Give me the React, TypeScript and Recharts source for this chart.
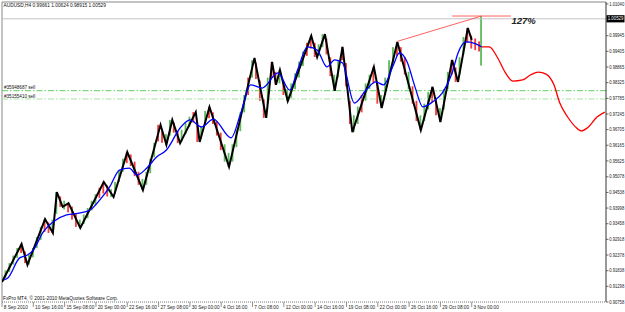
import React from 'react';
import { ComposedChart, Line, Bar, XAxis, YAxis, ReferenceLine, ReferenceDot } from 'recharts';

const FONT = '"Liberation Sans", Arial, sans-serif';
const X_MIN = 0;
const X_MAX = 308.6;
const Y_MIN = 0.90758;
const Y_MAX = 1.01108;

const xTickIdx = [0, 16, 32, 48, 64, 80, 96, 112, 128, 144, 160, 176, 192, 208, 224, 240];
const xTickLabels = ['8 Sep 2010', '10 Sep 16:00', '15 Sep 08:00', '20 Sep 00:00', '22 Sep 16:00', '27 Sep 08:00', '30 Sep 00:00', '4 Oct 16:00', '7 Oct 08:00', '12 Oct 00:00', '14 Oct 16:00', '19 Oct 08:00', '22 Oct 00:00', '26 Oct 16:00', '29 Oct 08:00', '3 Nov 00:00'];
const yTickValues = [1.0104, 1.00529, 0.99945, 0.99405, 0.98865, 0.98325, 0.97785, 0.97245, 0.96705, 0.96165, 0.95625, 0.95078, 0.94538, 0.93998, 0.93458, 0.92918, 0.92378, 0.91838, 0.91298, 0.90758];
const bidPrice = 1.00529;
const orderPrices = [0.98048, 0.97762];
const orderLabels = ['#35948687 sell', '#35155410 sell'];
const headerText = 'AUDUSD,H4  0.99661 1.00624 0.98915 1.00529';
const footerText = 'FxPro MT4, \u00a9 2001-2010 MetaQuotes Software Corp.';
const fiboIdx = [202, 245, 230, 260];
const fiboPrice = [0.9975, 1.00624];
const fiboLabel = '127%';

// ZigZag pivots
const zigIdx = [0, 10, 13, 22, 26, 28, 31, 34, 40, 52, 57, 64, 72, 81, 84, 87, 91, 99, 101, 106, 116, 129, 135, 138, 140, 142, 146, 158, 161, 165, 170, 174, 179, 190, 194, 202, 214, 220, 224, 230, 233, 238, 240];
const zigPrice = [0.9145, 0.9276, 0.9204, 0.9362, 0.9314, 0.9455, 0.9404, 0.9417, 0.9331, 0.949, 0.9438, 0.9593, 0.9462, 0.9687, 0.9618, 0.9704, 0.9624, 0.9731, 0.9628, 0.9749, 0.9542, 0.9918, 0.9711, 0.9904, 0.9825, 0.9876, 0.9769, 0.9994, 0.9921, 1.0, 0.9804, 0.9956, 0.9662, 0.9887, 0.9745, 0.9973, 0.9669, 0.9818, 0.9697, 0.9911, 0.9835, 1.0021, 0.998];

// Smoothed (blue) line
const maIdx = [1, 3, 9, 13, 16, 21, 26, 33, 40, 45, 50, 55, 60, 65, 69, 74, 79, 84, 91, 96, 102, 108, 117, 122, 127, 133, 141, 147, 151, 156, 161, 166, 170, 174, 180, 186, 191, 195, 200, 203, 207, 211, 215, 220, 225, 230, 233, 237, 241, 245];
const maPrice = [0.9152, 0.9159, 0.9228, 0.9238, 0.9255, 0.9317, 0.9352, 0.9376, 0.9383, 0.9393, 0.9428, 0.9473, 0.9531, 0.9538, 0.9514, 0.9538, 0.9576, 0.96, 0.9676, 0.9704, 0.968, 0.9707, 0.9642, 0.9728, 0.9825, 0.9814, 0.9866, 0.9807, 0.9876, 0.9956, 0.9945, 0.9887, 0.9911, 0.99, 0.9762, 0.9807, 0.9835, 0.9825, 0.9894, 0.9935, 0.9904, 0.9818, 0.9749, 0.9766, 0.9797, 0.9866, 0.9935, 0.9973, 0.9969, 0.9956];

// Red projection
const projIdx = [245, 249, 253, 257, 261, 266, 270, 274, 278, 282, 285, 289, 293, 296, 299, 304, 308];
const projPrice = [0.9956, 0.9956, 0.9921, 0.9869, 0.9838, 0.9842, 0.9859, 0.9869, 0.9862, 0.9825, 0.9762, 0.9714, 0.968, 0.9666, 0.9676, 0.9714, 0.9731];

// Candles
const candleIdx = [
  0, 2, 4, 6, 8, 10, 12, 14, 16, 18,
  20, 22, 24, 26, 28, 30, 32, 34, 36, 38,
  40, 42, 44, 46, 48, 50, 52, 54, 56, 58,
  60, 62, 64, 66, 68, 70, 72, 74, 76, 78,
  80, 82, 84, 86, 88, 90, 92, 94, 96, 98,
  100, 102, 104, 106, 108, 110, 112, 114, 116, 118,
  120, 122, 124, 126, 128, 130, 132, 134, 136, 138,
  140, 142, 144, 146, 148, 150, 152, 154, 156, 158,
  160, 162, 164, 166, 168, 170, 172, 174, 176, 178,
  180, 182, 184, 186, 188, 190, 192, 194, 196, 198,
  200, 202, 204, 206, 208, 210, 212, 214, 216, 218,
  220, 222, 224, 226, 228, 230, 232, 234, 236, 238,
  240, 242, 244, 245,
];
const candleLow = [
  0.9145, 0.9158, 0.918, 0.9205, 0.9228, 0.9245, 0.921, 0.9205, 0.923, 0.9262,
  0.929, 0.9318, 0.9314, 0.9314, 0.938, 0.9404, 0.9395, 0.9385, 0.936, 0.9335,
  0.9331, 0.9345, 0.9365, 0.9392, 0.941, 0.9435, 0.945, 0.944, 0.9438, 0.945,
  0.949, 0.9525, 0.9555, 0.9545, 0.951, 0.948, 0.9462, 0.948, 0.952, 0.9575,
  0.963, 0.9625, 0.9618, 0.965, 0.966, 0.9624, 0.963, 0.9655, 0.968, 0.9695,
  0.9628, 0.964, 0.969, 0.971, 0.969, 0.965, 0.96, 0.956, 0.9542, 0.956,
  0.961, 0.9665, 0.973, 0.979, 0.985, 0.9845, 0.977, 0.9711, 0.976, 0.985,
  0.9825, 0.983, 0.979, 0.9769, 0.978, 0.981, 0.985, 0.989, 0.9925, 0.995,
  0.9921, 0.9925, 0.9955, 0.993, 0.9855, 0.9804, 0.985, 0.991, 0.982, 0.969,
  0.9662, 0.969, 0.973, 0.977, 0.981, 0.983, 0.976, 0.9745, 0.979, 0.985,
  0.99, 0.9925, 0.9905, 0.986, 0.981, 0.976, 0.97, 0.9669, 0.97, 0.974,
  0.9765, 0.972, 0.9697, 0.974, 0.981, 0.986, 0.9835, 0.986, 0.993, 0.997,
  0.995, 0.9945, 0.994, 0.98915,
];
const candleHigh = [
  0.917, 0.9185, 0.921, 0.9236, 0.9262, 0.9276, 0.925, 0.924, 0.9262, 0.93,
  0.9335, 0.9362, 0.935, 0.936, 0.9455, 0.944, 0.9425, 0.9417, 0.9405, 0.938,
  0.936, 0.9378, 0.94, 0.9425, 0.9448, 0.947, 0.949, 0.9478, 0.9465, 0.949,
  0.953, 0.957, 0.9593, 0.9585, 0.956, 0.9525, 0.95, 0.9525, 0.957, 0.9625,
  0.9687, 0.967, 0.9655, 0.9704, 0.9695, 0.9665, 0.967, 0.9695, 0.9715, 0.9731,
  0.969, 0.968, 0.9735, 0.9749, 0.973, 0.97, 0.966, 0.962, 0.959, 0.962,
  0.967, 0.973, 0.979, 0.985, 0.991, 0.99, 0.984, 0.9775, 0.985, 0.9904,
  0.987, 0.9876, 0.984, 0.981, 0.983, 0.9865, 0.9905, 0.994, 0.997, 0.9994,
  0.997, 0.9965, 1.0, 0.9985, 0.992, 0.986, 0.991, 0.9956, 0.99, 0.977,
  0.972, 0.975, 0.979, 0.983, 0.986, 0.9887, 0.983, 0.979, 0.985, 0.991,
  0.9955, 0.9973, 0.9955, 0.992, 0.987, 0.982, 0.977, 0.972, 0.976, 0.98,
  0.9818, 0.978, 0.9745, 0.981, 0.987, 0.9911, 0.9885, 0.992, 0.999, 1.0021,
  0.9995, 0.9985, 0.9975, 1.00624,
];
const candleUp = [
  1, 1, 1, 1, 1, 0, 0, 1, 1, 1,
  1, 0, 0, 1, 1, 0, 1, 0, 0, 0,
  1, 1, 1, 1, 1, 0, 0, 0, 1, 1,
  1, 1, 0, 0, 0, 0, 1, 1, 1, 1,
  0, 0, 1, 1, 0, 0, 1, 1, 1, 0,
  0, 1, 1, 0, 0, 0, 0, 1, 1, 1,
  1, 1, 1, 0, 1, 0, 0, 0, 1, 0,
  0, 1, 0, 1, 1, 1, 1, 1, 0, 0,
  0, 1, 1, 0, 0, 1, 1, 0, 0, 0,
  1, 1, 0, 1, 1, 0, 0, 1, 1, 1,
  1, 0, 0, 0, 1, 0, 0, 1, 1, 1,
  0, 0, 1, 1, 1, 0, 0, 1, 1, 0,
  0, 0, 0, 1,
];

const GREEN = '#5cbc5c';
const RED = '#f23a3a';

const rows: any[] = [];
for (let i = 0; i <= 308; i++) rows.push({ i });
zigIdx.forEach((ix, k) => { rows[ix].zig = zigPrice[k]; });
maIdx.forEach((ix, k) => { rows[ix].ma = maPrice[k]; });
projIdx.forEach((ix, k) => { rows[ix].proj = projPrice[k]; });
candleIdx.forEach((ix, k) => {
  rows[ix].range = [candleLow[k], candleHigh[k]];
  rows[ix].up = candleUp[k];
});

const CandleShape = (p: any) => {
  const { x, y, width, height, payload } = p;
  if (!payload || !payload.range || y == null || isNaN(y) || height == null) return null;
  const cx = x + width / 2;
  const top = Math.min(y, y + height);
  const h = Math.max(1, Math.abs(height));
  return <rect x={cx - 0.9} y={top} width={1.8} height={h} fill={payload.up ? GREEN : RED} />;
};

const XTick = (p: any) => {
  const { x, y, payload } = p;
  const k = xTickIdx.indexOf(payload.value);
  return (
    <g>
      <line x1={x} x2={x} y1={y} y2={y + 5} stroke="#777" strokeWidth={0.8} />
      <text x={x + 1.8} y={y + 7.2} fontSize={4.7} fontFamily={FONT} fill="#222">{xTickLabels[k]}</text>
    </g>
  );
};

const YTick = (p: any) => {
  const { x, y, payload } = p;
  const v = payload.value;
  const label = v.toFixed(5);
  if (Math.abs(v - bidPrice) < 1e-7) {
    return (
      <g>
        <rect x={x + 0.5} y={y - 3.6} width={18} height={7.2} fill="#000" />
        <text x={x + 1.8} y={y + 1.7} fontSize={4.6} fontFamily={FONT} fill="#fff" textLength={15.5} lengthAdjust="spacingAndGlyphs">{label}</text>
      </g>
    );
  }
  return (
    <g>
      <line x1={x} x2={x + 2.5} y1={y} y2={y} stroke="#444" strokeWidth={0.8} />
      <text x={x + 3.2} y={y + 1.7} fontSize={4.6} fontFamily={FONT} fill="#222" textLength={15} lengthAdjust="spacingAndGlyphs">{label}</text>
    </g>
  );
};

const TextLabel = (p: any) => {
  const vb = p.viewBox || {};
  return (
    <text x={(vb.x || 0) + p.dx} y={(vb.y || 0) + p.dy} fontSize={p.size || 4.8} fontFamily={FONT}
      fill={p.color || '#111'} fontWeight={p.bold ? 'bold' : 'normal'} fontStyle={p.italic ? 'italic' : 'normal'}>
      {p.text}
    </text>
  );
};

export default function App() {
  return (
    <div style={{ position: 'absolute', left: 0, top: 0, width: 625, height: 312, background: '#fff' }}>
      <ComposedChart width={625} height={312} data={rows} margin={{ top: 2, right: 0, bottom: 0, left: 2 }}>
        <XAxis type="number" dataKey="i" domain={[X_MIN, X_MAX]} ticks={xTickIdx} interval={0}
          tick={<XTick />} tickLine={false} tickSize={0} tickMargin={0}
          axisLine={{ stroke: '#777', strokeDasharray: '1 1' }} height={10} allowDataOverflow />
        <YAxis orientation="right" type="number" domain={[Y_MIN, Y_MAX]} ticks={yTickValues} interval={0}
          tick={<YTick />} tickLine={false} tickSize={0} tickMargin={0}
          axisLine={{ stroke: '#333' }} width={19} allowDataOverflow />
        <ReferenceLine y={Y_MAX} stroke="#888" label={<TextLabel text={headerText} dx={1.5} dy={5.2} />} />
        <ReferenceLine x={X_MIN} stroke="#888" />
        <ReferenceLine y={Y_MIN} strokeOpacity={0} label={<TextLabel text={footerText} dx={1} dy={-2.2} size={4.8} />} />
        <ReferenceLine y={bidPrice} stroke="#c4c4c4" />
        <ReferenceLine y={orderPrices[0]} stroke="#5fcf5f" strokeDasharray="6 2 1.5 2"
          label={<TextLabel text={orderLabels[0]} dx={2} dy={-1.6} size={4.6} />} />
        <ReferenceLine y={orderPrices[1]} stroke="#a9e2a9" strokeDasharray="6 2 1.5 2"
          label={<TextLabel text={orderLabels[1]} dx={2} dy={-1.4} size={4.6} />} />
        <Bar dataKey="range" barSize={1} shape={(p: any) => <CandleShape {...p} />} isAnimationActive={false} />
        <Line dataKey="zig" type="linear" stroke="#000" strokeWidth={2} dot={false} activeDot={false} connectNulls isAnimationActive={false} />
        <Line dataKey="ma" type="monotone" stroke="#0000ff" strokeWidth={1.3} dot={false} activeDot={false} connectNulls isAnimationActive={false} />
        <Line dataKey="proj" type="monotone" stroke="#ff0000" strokeWidth={1.3} dot={false} activeDot={false} connectNulls isAnimationActive={false} />
        <ReferenceLine segment={[{ x: fiboIdx[0], y: fiboPrice[0] }, { x: fiboIdx[1], y: fiboPrice[1] }]} stroke="#ff5050" strokeWidth={0.9} />
        <ReferenceLine segment={[{ x: fiboIdx[2], y: fiboPrice[1] }, { x: fiboIdx[3], y: fiboPrice[1] }]} stroke="#ff5050" strokeWidth={0.9} />
        <ReferenceDot x={fiboIdx[3]} y={fiboPrice[1]} r={0} fill="none" stroke="none"
          label={<TextLabel text={fiboLabel} dx={0.5} dy={7.5} size={9.5} bold italic color="#222" />} />
      </ComposedChart>
    </div>
  );
}
